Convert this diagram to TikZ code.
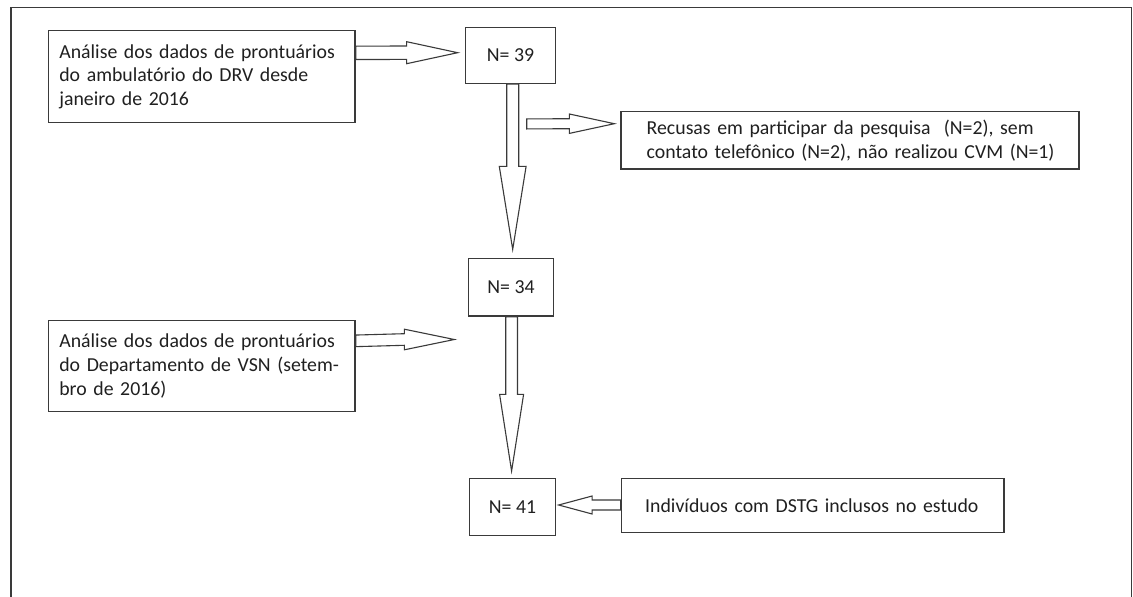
\documentclass[tikz,border=0pt]{standalone}
\usepackage{fontspec}
\setmainfont{Carlito}
\usetikzlibrary{calc}
\definecolor{linec}{HTML}{3A3A3A}
\definecolor{textc}{HTML}{202020}
\tikzset{
  box/.style={draw=linec, line width=1.3pt, fill=white, text=textc, inner ysep=0pt,
    font=\fontsize{19.8}{23.8}\selectfont},
  textbox/.style={box, align=left, anchor=center},
  nbox/.style={box, align=center, inner xsep=0pt},
  barrow/.style={draw=linec, line width=1.1pt, fill=white, line join=miter},
  frameline/.style={draw=linec, line width=1.5pt}
}
% horizontal block arrow: #1 start, #2 tip, #3 half shaft, #4 half head, #5 signed head length
\newcommand{\blockarrowH}[5]{%
  \draw[barrow] ($(#1)+(0,#3)$) -- ($(#2)+({-(#5)},#3)$) -- ($(#2)+({-(#5)},#4)$) -- (#2)
    -- ($(#2)+({-(#5)},{-(#4)})$) -- ($(#2)+({-(#5)},{-(#3)})$) -- ($(#1)+(0,{-(#3)})$) -- cycle;}
% vertical block arrow (y grows downwards)
\newcommand{\blockarrowV}[5]{%
  \draw[barrow] ($(#1)+(#3,0)$) -- ($(#2)+(#3,{-(#5)})$) -- ($(#2)+(#4,{-(#5)})$) -- (#2)
    -- ($(#2)+({-(#4)},{-(#5)})$) -- ($(#2)+({-(#3)},{-(#5)})$) -- ($(#1)+({-(#3)},0)$) -- cycle;}
\begin{document}
\begin{tikzpicture}[x=1pt,y=-1pt]
\useasboundingbox (0,0) rectangle (1133,597);
\fill[white] (0,0) rectangle (1133,597);
% outer frame (open at the bottom)
\draw[frameline] (11,597) -- (11,7.3) -- (1131.6,7.3) -- (1131.6,597);

% boxes
\node[textbox, minimum width=306.7pt, minimum height=92pt, inner xsep=11pt, text width=284.7pt]
  (box1) at (201.7,76.7) {\mbox{Análise dos dados de prontuários}\\\mbox{do ambulatório do DRV desde}\\\mbox{janeiro de 2016}};
\node[nbox, minimum width=89.6pt, minimum height=55.6pt] (n39) at (510.5,55.5) {N= 39};
\node[textbox, minimum width=458pt, minimum height=57.3pt, inner xsep=25.7pt, text width=406.6pt]
  (rec) at (850,140.3) {\mbox{Recusas em participar da pesquisa~ (N=2), sem}\\\mbox{contato telefônico (N=2), não realizou CVM (N=1)}};
\node[nbox, minimum width=85.4pt, minimum height=57.7pt] (n34) at (511,287.2) {N= 34};
\node[textbox, minimum width=306.7pt, minimum height=91pt, inner xsep=11pt, text width=284.7pt]
  (vsn) at (201.7,366) {\mbox{Análise dos dados de prontuários}\\\mbox{do Departamento de VSN (setem-}\\\mbox{bro de 2016)}};
\node[nbox, minimum width=85.8pt, minimum height=56.6pt] (n41) at (512.5,507) {N= 41};
\node[textbox, minimum width=382.8pt, minimum height=54pt, inner xsep=24pt, text width=334.8pt]
  (dstg) at (812.6,505.7) {\mbox{Indivíduos com DSTG inclusos no estudo}};

% connector end points
\coordinate (a1s) at ($(box1.north east)+(0,22.8)$);
\coordinate (a1t) at ($(n39.west)+(-7.4,-2.8)$);
\coordinate (v1s) at ($(n39.south)+(2.2,0)$);
\coordinate (v1t) at ($(n34.north)+(1.7,-8.3)$);
\coordinate (sas) at ($(n39.south)+(16.2,40)$);
\coordinate (sat) at ($(rec.west)+(-6,-16.6)$);
\coordinate (a2s) at ($(vsn.north east)+(0,21)$);
\coordinate (a2t) at ($(n34.west)+(-13.3,52.3)$);
\coordinate (v2s) at ($(n34.south)+(0.6,0)$);
\coordinate (v2t) at ($(n41.north)+(-0.9,-7)$);
\coordinate (a3s) at ($(dstg.west)+(0,-0.7)$);
\coordinate (a3t) at ($(n41.east)+(2.6,-2)$);

% block arrows
\blockarrowH{a1s}{a1t}{6.7}{11}{51}
\blockarrowV{v1s}{v1t}{6}{13.4}{83}
\blockarrowH{sas}{sat}{5}{9.7}{45}
\blockarrowH{a2s}{a2t}{5.8}{10.3}{50}
\blockarrowV{v2s}{v2t}{5.9}{12}{76.7}
\blockarrowH{a3s}{a3t}{5}{9}{-33.5}
\end{tikzpicture}
\end{document}
